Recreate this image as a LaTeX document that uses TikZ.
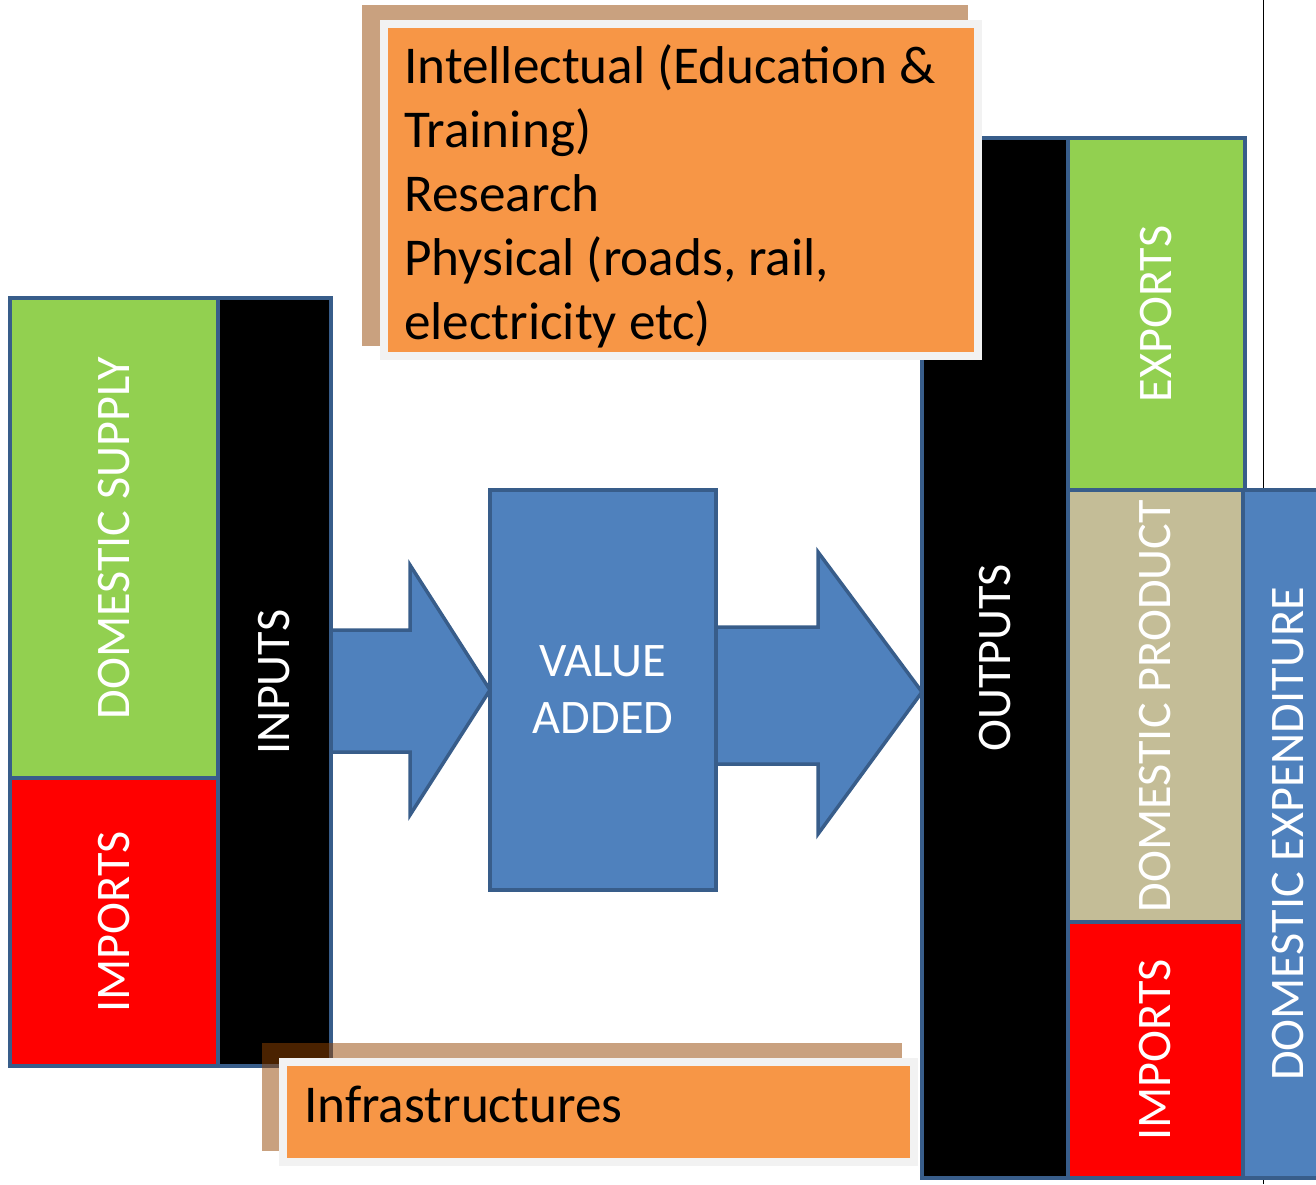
\documentclass[tikz,border=0pt]{standalone}
\usepackage{fontspec}
\setmainfont{Carlito}
\usepackage{xcolor}
\definecolor{edgeblue}{RGB}{56,93,138}
\definecolor{vablue}{RGB}{79,129,189}
\definecolor{leafgreen}{RGB}{146,208,80}
\definecolor{tanbox}{RGB}{196,189,151}
\definecolor{boxorange}{RGB}{247,150,70}
\definecolor{framegray}{RGB}{242,242,242}
\definecolor{shadowbrown}{RGB}{148,68,0}
\newcommand{\boxfont}{\fontsize{53.2}{64}\selectfont}
\newcommand{\tagfont}{\fontsize{48.2}{57}\selectfont}

\tikzset{
  block/.style={draw=edgeblue, line width=3.5pt, outer sep=0pt, inner sep=0pt, text=white, font=\tagfont},
  flow/.style={fill=vablue, draw=edgeblue, line width=3.5pt, line join=miter},
  infobox/.style={fill=boxorange, draw=framegray, line width=8pt, outer sep=0pt, inner sep=0pt, anchor=north west},
  infotext/.style={font=\boxfont, align=left, inner sep=0pt, anchor=base west},
  castshadow/.style={fill=shadowbrown, fill opacity=0.5}
}

\begin{document}
\begin{tikzpicture}[x=1pt, y=-1pt]
        \useasboundingbox (0,0) rectangle (1316,1184);
        \draw[line width=1pt] (1263,0) -- (1263,1184);

        % inputs side
        \node[block, fill=leafgreen, rotate=90, minimum width=480pt, minimum height=208pt] (dsupply) at (114,538) {DOMESTIC SUPPLY};
        \node[block, fill=red, rotate=90, minimum width=288pt, minimum height=208pt] (limports) at (114,922) {IMPORTS};
        \node[block, fill=black, rotate=90, minimum width=768pt, minimum height=113pt] (inputs) at (274.5,682) {INPUTS};

        % block arrows (rotated nodes: .south is the right edge, .north the left edge)
        \draw[flow] (603,690) ++(-113,0) -- ++(-80,-125) -- ++(0,65) coordinate (a1)
            -- (a1 -| inputs.south) -- ++(0,122) coordinate (b1) -- (b1 -| a1) -- ++(0,63) -- cycle;
        \draw[flow] (603,692) ++(319,0) -- ++(-104,-140) -- ++(0,75) coordinate (a2)
            -- (a2 -| 716,0) -- ++(0,137) coordinate (b2) -- (b2 -| a2) -- ++(0,70) -- cycle;

        \node[block, fill=vablue, minimum width=226pt, minimum height=400pt, align=center] (va) at (603,690) {VALUE\\ADDED};

        % outputs side
        \node[block, fill=black, rotate=90, minimum width=1040pt, minimum height=146pt] (outputs) at (995,658) {OUTPUTS};
        \node[block, fill=leafgreen, rotate=90, minimum width=352pt, minimum height=177pt] (exports) at (1156.5,314) {EXPORTS};
        \node[block, fill=tanbox, rotate=90, minimum width=432pt, minimum height=175pt] (dproduct) at (1155.5,706) {DOMESTIC PRODUCT};
        \node[block, fill=red, rotate=90, minimum width=256pt, minimum height=175pt] (rimports) at (1155.5,1050) {IMPORTS};
        \node[block, fill=vablue, rotate=90, minimum width=688pt, minimum height=90pt] (dexp) at (1288,834) {DOMESTIC EXPENDITURE};

        % infrastructure boxes
        \fill[castshadow] (362,5) rectangle (968,346);
        \node[infobox, minimum width=594pt, minimum height=332pt] (intel) at (384,24) {};
        % base of a multi-line node is its last line
        \node[infotext] (inteltext) at ([shift={(20,315)}]intel.north west)
            {Intellectual (Education \&\\Training)\\Research\\Physical (roads, rail,\\electricity etc)};

        \fill[castshadow] (262,1043) rectangle (902,1151);
        \node[infobox, minimum width=631pt, minimum height=100pt] (infra) at (283,1062) {};
        \node[infotext] (infratext) at ([shift={(21,60)}]infra.north west) {Infrastructures};
    \end{tikzpicture}
\end{document}
